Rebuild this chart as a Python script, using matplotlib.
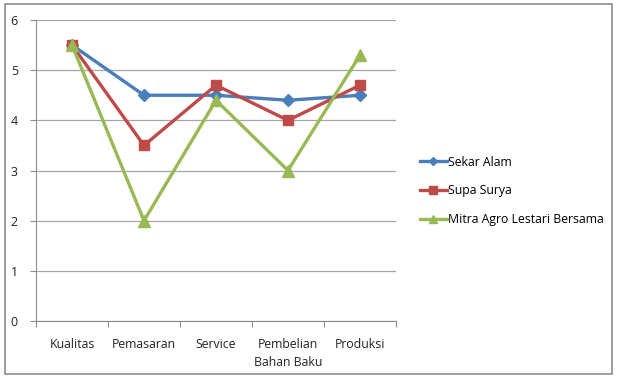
import matplotlib.pyplot as plt
from matplotlib.patches import Rectangle

categories = ["Kualitas", "Pemasaran", "Service", "Pembelian\nBahan Baku", "Produksi"]
sekar_alam = [5.5, 4.5, 4.5, 4.4, 4.5]
supa_surya = [5.5, 3.5, 4.7, 4.0, 4.7]
mitra_agro = [5.5, 2.0, 4.4, 3.0, 5.3]

plt.rcParams['font.family'] = ['Open Sans', 'DejaVu Sans']

fig = plt.figure(figsize=(6.17, 3.76), dpi=100)
fig.patches.append(Rectangle((5 / 617, 2 / 376), 607 / 617, 370 / 376,
                             transform=fig.transFigure, fill=False,
                             edgecolor="#8c8c8c", linewidth=1.2))

ax = fig.add_axes([36 / 617, 1 - 321 / 376, 360 / 617, 301 / 376])
x = range(len(categories))

ax.plot(x, sekar_alam, color="#4A7EBB", linewidth=2.4, marker="D", markersize=6,
        label="Sekar Alam")
ax.plot(x, supa_surya, color="#BE4B48", linewidth=2.4, marker="s", markersize=7,
        label="Supa Surya")
ax.plot(x, mitra_agro, color="#98B954", linewidth=2.4, marker="^", markersize=8,
        label="Mitra Agro Lestari Bersama")

ax.set_xlim(-0.5, len(categories) - 0.5)
ax.set_ylim(0, 6)
ax.set_yticks(range(0, 7))
ax.yaxis.grid(True, color="#a6a6a6", linewidth=0.9)
ax.set_axisbelow(True)

ax.set_xticks([i - 0.5 for i in range(len(categories) + 1)])
ax.set_xticklabels([])
ax.set_xticks(list(x), minor=True)
ax.set_xticklabels(categories, minor=True, fontsize=8.8, color="#222222",
                   linespacing=1.5)
ax.tick_params(axis="x", which="minor", length=0, pad=12)
ax.tick_params(axis="x", which="major", length=4, color="#8c8c8c")
ax.tick_params(axis="y", length=4, color="#8c8c8c", labelsize=9, labelcolor="#222222", pad=9)

for s in ["top", "right"]:
    ax.spines[s].set_visible(False)
for s in ["left", "bottom"]:
    ax.spines[s].set_color("#8c8c8c")

fig.legend(loc="center left", bbox_to_anchor=(409 / 617, 1 - 191 / 376),
           frameon=False, fontsize=8.8, labelspacing=1.3, handlelength=2.2,
           handletextpad=0.05, markerscale=0.75)

fig.savefig("out.png", dpi=100)
